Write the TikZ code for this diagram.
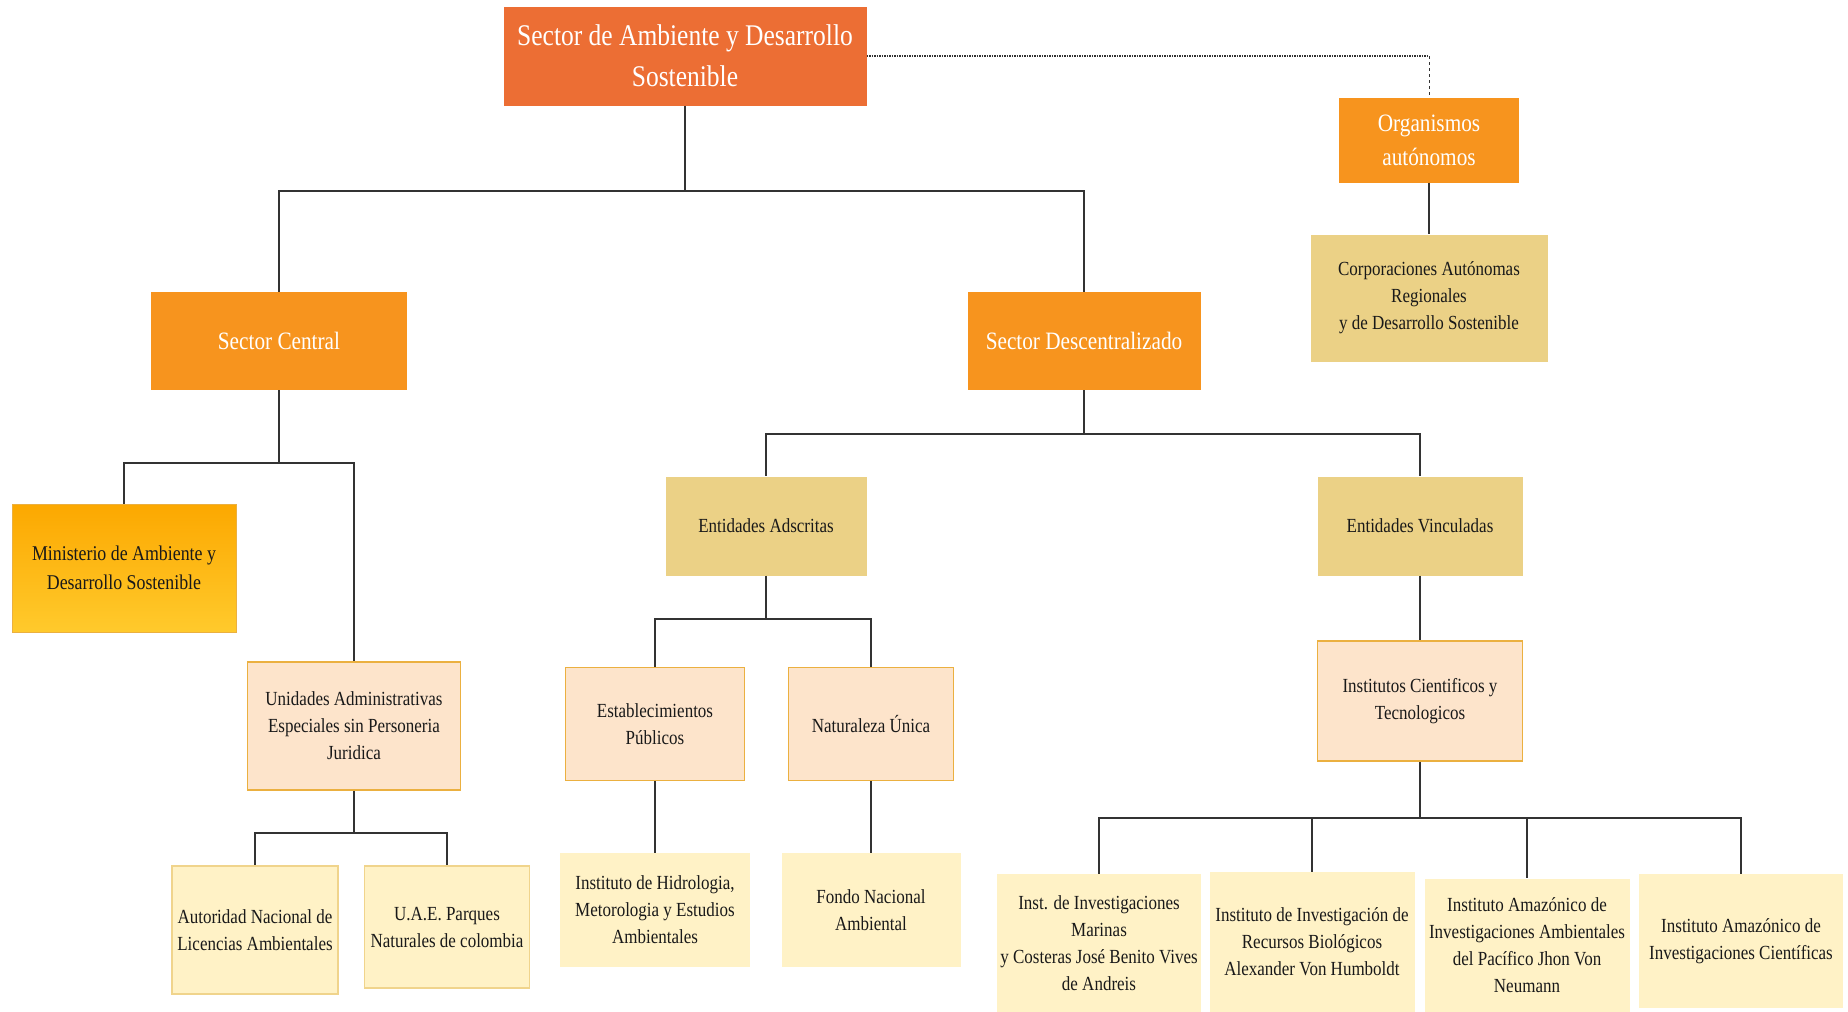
\documentclass[tikz,border=0pt]{standalone}
\usepackage{fontspec}
\setmainfont[FakeStretch=0.85]{Liberation Serif}
\usepackage{tikz}
\usetikzlibrary{positioning, calc}

\definecolor{toporange}{HTML}{EC6E34}
\definecolor{midorange}{HTML}{F7941E}
\definecolor{tanbox}{HTML}{EBD186}
\definecolor{peachbox}{HTML}{FDE4CB}
\definecolor{goldedge}{HTML}{EBB040}
\definecolor{creambox}{HTML}{FFF2C6}
\definecolor{creamedge}{HTML}{F0D48C}
\definecolor{ministop}{HTML}{FCA800}
\definecolor{minisbot}{HTML}{FFCA2C}
\definecolor{linegray}{HTML}{333333}

\begin{document}
\begin{tikzpicture}[
  x=1pt, y=1pt,
  every node/.style={align=center, inner sep=0pt},
  box/.style={rectangle, minimum width=#1},
  headbox/.style={box=#1, fill=midorange, text=white, font=\fontsize{25}{34}\selectfont},
  tanrect/.style={box=#1, fill=tanbox, text=black!90, font=\fontsize{20}{27}\selectfont},
  peachrect/.style={box=#1, fill=peachbox, draw=goldedge, line width=1.5pt, text=black!90, font=\fontsize{20}{27}\selectfont},
  creamrect/.style={box=#1, fill=creambox, text=black!90, font=\fontsize{20}{27}\selectfont},
  link/.style={draw=linegray, line width=1.2pt}
]
\useasboundingbox (0,0) rectangle (1848,-1012);

% Top of the chart
\node (sector) [box=363pt, minimum height=99pt, fill=toporange, text=white,
  font=\fontsize{30}{41}\selectfont] at (685,-56)
  {Sector de Ambiente y Desarrollo\\Sostenible};

\node (organismos) [headbox=180pt, minimum height=85pt] at (1429,-140)
  {Organismos\\autónomos};
\node (corporaciones) [tanrect=237pt, minimum height=127pt] at (1429,-298)
  {Corporaciones Autónomas\\Regionales\\y de Desarrollo Sostenible};

% Second level
\node (central) [headbox=256pt, minimum height=98pt] at (279,-341) {Sector Central};
\node (descentral) [headbox=233pt, minimum height=98pt] at (1084,-341) {Sector Descentralizado};

% Sector central branch
\node (ministerio) [box=224pt, minimum height=128pt, top color=ministop, bottom color=minisbot,
  draw=goldedge, line width=1pt, text=black!90, font=\fontsize{21}{29}\selectfont] at (124,-568)
  {Ministerio de Ambiente y\\Desarrollo Sostenible};
\node (unidades) [peachrect=213pt, minimum height=128pt] at (354,-726)
  {Unidades Administrativas\\Especiales sin Personeria\\Juridica};
\node (autoridad) [creamrect=166pt, minimum height=128pt, draw=creamedge, line width=1.5pt] at (255,-930)
  {Autoridad Nacional de\\Licencias Ambientales};
\node (uae) [creamrect=165pt, minimum height=122pt, draw=creamedge, line width=1.5pt] at (447,-927)
  {U.A.E. Parques\\Naturales de colombia};

% Sector descentralizado branch
\node (adscritas) [tanrect=201pt, minimum height=99pt] at (766,-526) {Entidades Adscritas};
\node (vinculadas) [tanrect=205pt, minimum height=99pt] at (1420,-526) {Entidades Vinculadas};

\node (establecimientos) [peachrect=179pt, minimum height=113pt] at (655,-724)
  {Establecimientos\\Públicos};
\node (naturaleza) [peachrect=165pt, minimum height=113pt] at (871,-724) {Naturaleza Única};
\node (hidrologia) [creamrect=190pt, minimum height=114pt] at (655,-910)
  {Instituto de Hidrologia,\\Metorologia y Estudios\\Ambientales};
\node (fondo) [creamrect=179pt, minimum height=114pt] at (871,-910)
  {Fondo Nacional\\Ambiental};

\node (institutos) [peachrect=205pt, minimum height=120pt] at (1420,-701)
  {Institutos Cientificos y\\Tecnologicos};
\node (marinas) [creamrect=204pt, minimum height=138pt] at (1099,-943)
  {Inst. de Investigaciones\\Marinas\\y Costeras José Benito Vives\\de Andreis};
\node (humboldt) [creamrect=205pt, minimum height=140pt] at (1312,-942)
  {Instituto de Investigación de\\Recursos Biológicos\\Alexander Von Humboldt};
\node (pacifico) [creamrect=205pt, minimum height=133pt] at (1527,-945)
  {Instituto Amazónico de\\Investigaciones Ambientales\\del Pacífico Jhon Von\\Neumann};
\node (cientificas) [creamrect=204pt, minimum height=134pt] at (1741,-941)
  {Instituto Amazónico de\\Investigaciones Científicas};

% Bus heights of the tree
\coordinate (busTop) at (0,-191);
\coordinate (busCentral) at (0,-463);
\coordinate (busUnidades) at (0,-833);
\coordinate (busDescentral) at (0,-434);
\coordinate (busAdscritas) at (0,-619);
\coordinate (busInstitutos) at (0,-818);

% Connectors
\draw[link] (sector.south) -- (sector.south |- busTop) -| (central.north);
\draw[link] (sector.south |- busTop) -| (descentral.north);

\draw[link] (central.south) -- (central.south |- busCentral) -| (ministerio.north);
\draw[link] (central.south |- busCentral) -| (unidades.north);
\draw[link] (unidades.south) -- (unidades.south |- busUnidades) -| (autoridad.north);
\draw[link] (unidades.south |- busUnidades) -| (uae.north);

\draw[link] (descentral.south) -- (descentral.south |- busDescentral) -| (adscritas.north);
\draw[link] (descentral.south |- busDescentral) -| (vinculadas.north);
\draw[link] (adscritas.south) -- (adscritas.south |- busAdscritas) -| (establecimientos.north);
\draw[link] (adscritas.south |- busAdscritas) -| (naturaleza.north);
\draw[link] (establecimientos.south) -- (hidrologia.north);
\draw[link] (naturaleza.south) -- (fondo.north);

\draw[link] (vinculadas.south) -- (institutos.north);
\draw[link] (institutos.south) -- (institutos.south |- busInstitutos) -| (marinas.north);
\draw[link] (institutos.south |- busInstitutos) -| (humboldt.north);
\draw[link] (institutos.south |- busInstitutos) -| (pacifico.north);
\draw[link] (institutos.south |- busInstitutos) -| (cientificas.north);

\draw[link] (organismos.south) -- (corporaciones.north);

% Dotted link to the autonomous bodies
\coordinate (corner) at (organismos.north |- sector.east);
\draw[linegray, line width=1.5pt, densely dotted] (sector.east) -- (corner);
\draw[linegray, line width=1pt, dashed] (corner) -- (organismos.north);

\end{tikzpicture}
\end{document}
